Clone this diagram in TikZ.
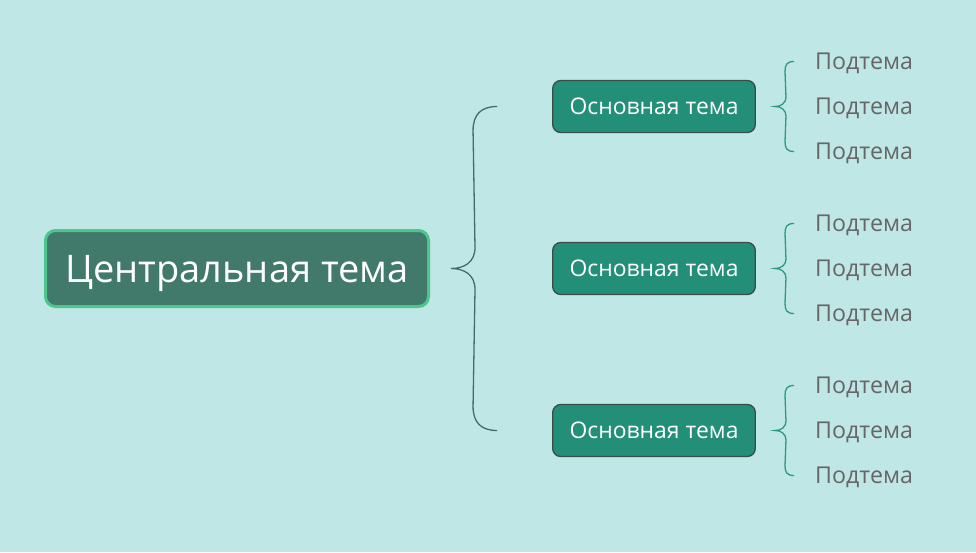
\documentclass[tikz,border=0pt]{standalone}
\usepackage{fontspec}
\setmainfont{Open Sans}
\usetikzlibrary{calc}
\definecolor{bg}{HTML}{BFE7E6}
\definecolor{cfill}{HTML}{41796B}
\definecolor{cborder}{HTML}{4FC58E}
\definecolor{mfill}{HTML}{238F78}
\definecolor{mborder}{HTML}{3B4B4A}
\definecolor{bigbrace}{HTML}{3F6F66}
\definecolor{smallbrace}{HTML}{2B9B7C}
\definecolor{subtext}{HTML}{666666}
\begin{document}
\begin{tikzpicture}[x=1pt,y=-1pt,
  central/.style={draw=cborder, line width=3pt, fill=cfill, rounded corners=10pt,
    minimum width=383pt, minimum height=76pt, text=white, inner sep=0pt,
    text height=27.4pt, text depth=0pt,
    font=\fontsize{38}{42}\selectfont},
  maintopic/.style={draw=mborder, line width=1.3pt, fill=mfill, rounded corners=8pt,
    minimum width=202.6pt, minimum height=52pt, text=white, inner sep=0pt,
    text height=16.5pt, text depth=0pt,
    font=\fontsize{22.9}{26}\selectfont},
  subtopic/.style={text=subtext, anchor=west, inner sep=0pt,
    text height=16.7pt, text depth=0pt,
    font=\fontsize{23.2}{26}\selectfont},
  bigbr/.style={draw=bigbrace, line width=1.3pt},
  smallbr/.style={draw=smallbrace, line width=1.3pt}]
\fill[bg] (0,0) rectangle (976,552);
\useasboundingbox (0,0) rectangle (976,552);

\node[central] (c) at (237,268.5) {Центральная тема\hspace{8pt}};

\foreach \i/\y in {1/106.5, 2/268.5, 3/430.5} {
  \node[maintopic] (m\i) at (654,\y) {Основная тема\hspace{4pt}};
  \node[subtopic] (s\i1) at (815,\y-45) {Подтема};
  \node[subtopic] (s\i2) at (815,\y) {Подтема};
  \node[subtopic] (s\i3) at (815,\y+45) {Подтема};
  \coordinate (t\i) at ([xshift=19pt]m\i.east);
  \draw[smallbr] ([xshift=-21pt]s\i1.west) .. controls +(-7,0) and +(0,-7) .. ++(-9,10)
    -- ($(t\i)+(11,-10)$) .. controls +(0,7) and +(6,0) .. (t\i)
    .. controls +(6,0) and +(0,-7) .. ($(t\i)+(11,10)$)
    -- ($(s\i3.west)+(-30,-10)$) .. controls +(0,7) and +(-7,0) .. ([xshift=-21pt]s\i3.west);
}

\coordinate (tip) at ([xshift=21pt]c.east);
\coordinate (e1) at ([xshift=-55pt]m1.west);
\coordinate (e3) at ([xshift=-55pt]m3.west);
\draw[bigbr] (e1) .. controls +(-16,0) and +(0,-16) .. ++(-24,24)
  -- ($(tip)+(24,-21)$) .. controls +(0,15) and +(13,0) .. (tip)
  .. controls +(13,0) and +(0,-15) .. ($(tip)+(24,21)$)
  -- ($(e3)+(-24,-24)$) .. controls +(0,16) and +(-16,0) .. (e3);
\end{tikzpicture}
\end{document}
